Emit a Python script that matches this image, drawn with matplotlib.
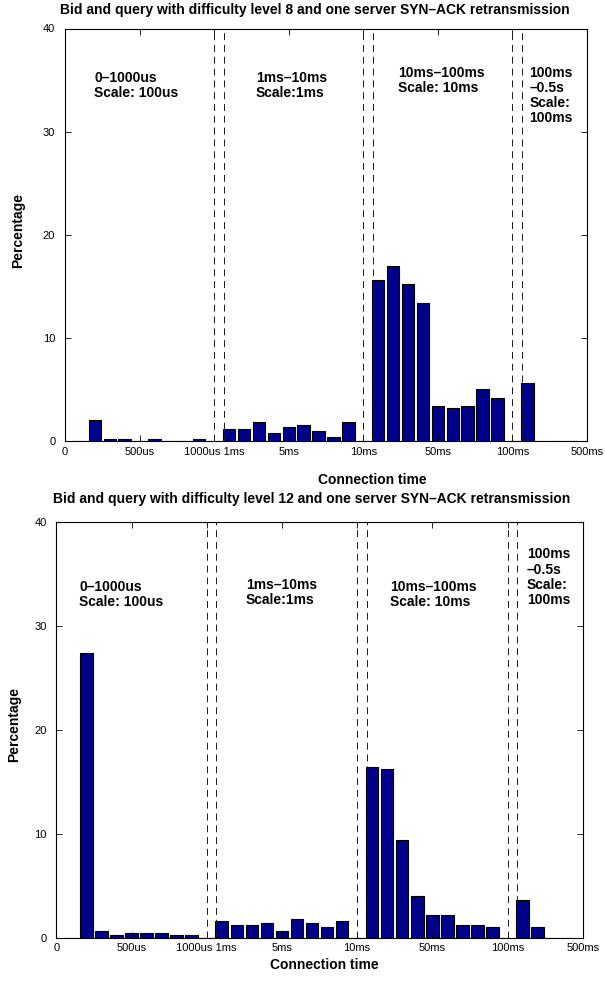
import numpy as np
import matplotlib
matplotlib.use("Agg")
import matplotlib.pyplot as plt

plt.rcParams['font.family'] = ['Liberation Sans', 'DejaVu Sans']
plt.rcParams['lines.scale_dashes'] = False

# bin positions 1..34 (four sections: 100us, 1ms, 10ms, 100ms bins)
positions = np.arange(1, 35)

# difficulty level 8
level8 = [0, 2.0, 0.2, 0.2, 0, 0.2, 0, 0, 0.2, 0,
          1.2, 1.2, 1.8, 0.8, 1.4, 1.6, 1.0, 0.4, 1.8, 0,
          15.6, 17.0, 15.2, 13.4, 3.4, 3.2, 3.4, 5.0, 4.2, 0,
          5.6, 0, 0, 0]

# difficulty level 12
level12 = [0, 27.4, 0.6, 0.2, 0.4, 0.4, 0.4, 0.2, 0.2, 0,
           1.6, 1.2, 1.2, 1.4, 0.6, 1.8, 1.4, 1.0, 1.6, 0,
           16.4, 16.2, 9.4, 4.0, 2.2, 2.2, 1.2, 1.2, 1.0, 0,
           3.6, 1.0, 0, 0]

tick_pos = [0, 5, 10, 15, 20, 25, 30, 35]
tick_labels = ['0', '500us', '1000us 1ms', '5ms', '10ms', '50ms', '100ms', '500ms']
section_lines = [10, 10.65, 20, 20.68, 30, 30.65]

section_texts = ['0–1000us\nScale: 100us', '1ms–10ms\nScale:1ms',
                 '10ms–100ms\nScale: 10ms', '100ms\n–0.5s\nScale:\n100ms']

W, H = 605, 982
fig = plt.figure(figsize=(W / 100, H / 100), dpi=100)


def px_axes(left, top, right, bottom):
    return fig.add_axes([left / W, 1 - bottom / H, (right - left) / W, (bottom - top) / H])


def draw(ax, values, text_pos):
    ax.bar(positions, values, width=0.83, color='#00008B', edgecolor='black', linewidth=0.8)
    for x in section_lines:
        ax.plot([x, x], [0, 40], color='0.1', linewidth=0.7, dashes=(5, 3.5))
    for (tx, ty), s in zip(text_pos, section_texts):
        ax.text(tx, ty, s, ha='left', va='top', fontsize=10, fontweight='bold',
                linespacing=1.1)
    ax.set_xlim(0, 35)
    ax.set_ylim(0, 40)
    ax.set_xticks(tick_pos)
    ax.set_xticklabels(tick_labels)
    ax.set_yticks([0, 10, 20, 30, 40])
    ax.tick_params(direction='in', length=4, width=0.6, labelsize=8,
                   top=True, right=True)
    ax.tick_params(axis='x', pad=4)
    ax.tick_params(axis='y', pad=7)
    for sp in ax.spines.values():
        sp.set_linewidth(0.8)


title8 = 'Bid and query with difficulty level 8 and one server SYN–ACK retransmission'
title12 = 'Bid and query with difficulty level 12 and one server SYN–ACK retransmission'

ax1 = px_axes(65, 28.5, 587, 441)
draw(ax1, level8, [(1.97, 35.9), (12.8, 35.9), (22.35, 36.4), (31.14, 36.4)])
fig.text(315 / W, 1 - 10 / H, title8, ha='center', va='center', fontsize=10, fontweight='bold')
fig.text(372 / W, 1 - 480 / H, 'Connection time', ha='center', va='center', fontsize=10, fontweight='bold')
fig.text(18 / W, 1 - 230 / H, 'Percentage', ha='center', va='center', rotation=90, fontsize=10, fontweight='bold')

ax2 = px_axes(56.3, 521.5, 582.7, 937.5)
draw(ax2, level12, [(1.53, 34.4), (12.6, 34.6), (22.19, 34.4), (31.28, 37.5)])
fig.text(312 / W, 1 - 499.5 / H, title12, ha='center', va='center', fontsize=10, fontweight='bold')
fig.text(324 / W, 1 - 965 / H, 'Connection time', ha='center', va='center', fontsize=10, fontweight='bold')
fig.text(14 / W, 1 - 724 / H, 'Percentage', ha='center', va='center', rotation=90, fontsize=10, fontweight='bold')

fig.savefig('out.png', dpi=100)
